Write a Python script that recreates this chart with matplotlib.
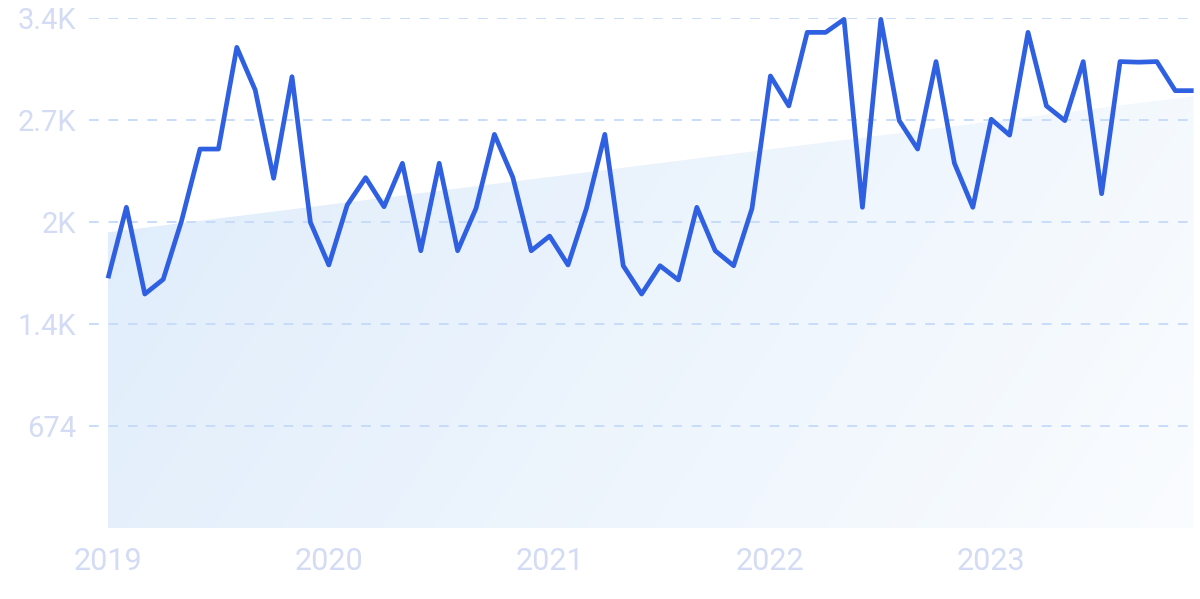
import matplotlib
matplotlib.use('Agg')
import matplotlib.pyplot as plt
import numpy as np
from matplotlib.patches import Polygon

# Monthly values, Jan 2019 - Dec 2023
values = [1650, 2119, 1546, 1643, 2031, 2504, 2504, 3176, 2894, 2311, 2982, 2020,
          1738, 2134, 2315, 2123, 2410, 1832, 2410, 1832, 2112, 2601, 2317, 1832,
          1929, 1738, 2112, 2601, 1733, 1546, 1733, 1639, 2119, 1832, 1733, 2112,
          2987, 2789, 3275, 3275, 3361, 2119, 3361, 2692, 2504, 3082, 2410, 2119,
          2701, 2596, 3275, 2789, 2692, 3082, 2209, 3082, 3078, 3082, 2890, 2890]
year_labels = ['2019', '2020', '2021', '2022', '2023']
year_positions = [0, 12, 24, 36, 48]
y_ticks = [674, 1348, 2022, 2696, 3370]
y_tick_labels = ['674', '1.4K', '2K', '2.7K', '3.4K']

plt.rcParams['font.family'] = ['Roboto', 'DejaVu Sans']

W, H = 1200, 599
fig = plt.figure(figsize=(W / 100, H / 100), dpi=100)
ax = fig.add_axes([89 / W, 1 - 528 / H, (1194 - 89) / W, (528 - 18) / H])

x = np.arange(len(values))
n = len(values)
ax.set_xlim(-1.033, n - 1 + 0.02)
ax.set_ylim(0, y_ticks[-1])

# trend area with diagonal gradient
coef = np.polyfit(x, values, 1)
t0 = np.polyval(coef, 0)
t1 = np.polyval(coef, n - 1)
poly = Polygon([(0, 0), (0, t0), (n - 1, t1), (n - 1, 0)], closed=True,
               facecolor='none', edgecolor='none')
ax.add_patch(poly)
gx, gy = np.meshgrid(np.linspace(0, 1, 300), np.linspace(0, 1, 200))
g = np.clip(0.65 * gx + 0.2 * gy, 0, 1)  # 0 at top-left, larger toward bottom-right
c0 = np.array([222, 236, 251]) / 255
c1 = np.array([255, 255, 255]) / 255
img = c0[None, None, :] * (1 - g[..., None]) + c1[None, None, :] * g[..., None]
im = ax.imshow(img, extent=[0, n - 1, 0, y_ticks[-1]], origin='upper',
               aspect='auto', zorder=1, interpolation='bilinear')
im.set_clip_path(poly)

ax.set_yticks(y_ticks)
ax.set_yticklabels(y_tick_labels)
ax.set_xticks(year_positions)
ax.set_xticklabels(year_labels)
ax.yaxis.grid(True, linestyle=(0, (5, 5)), color='#c8dcfa', lw=1.4, zorder=2)
ax.set_axisbelow(False)
for s in ax.spines.values():
    s.set_visible(False)
ax.tick_params(axis='both', length=0, labelcolor='#d3dbf5')
ax.tick_params(axis='y', pad=9, labelsize=21)
ax.tick_params(axis='x', pad=14, labelsize=22)

ax.plot(x, values, color='#2f60e2', lw=3.4, zorder=3, clip_on=False,
        solid_joinstyle='round', solid_capstyle='butt')

fig.savefig('out.png', dpi=100)
